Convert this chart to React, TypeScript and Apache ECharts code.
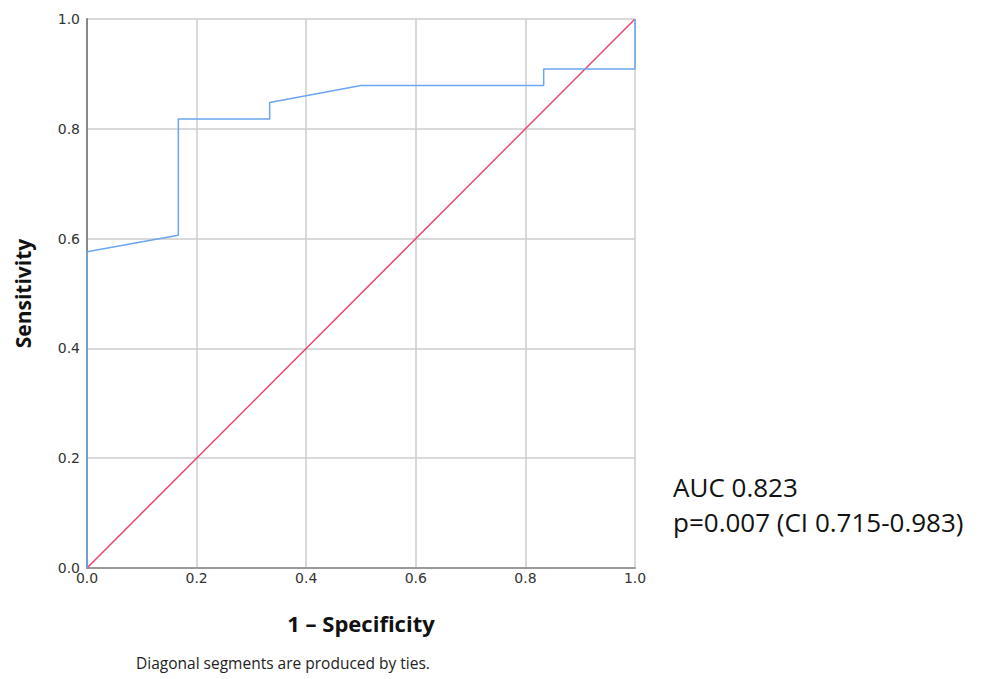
import React, { useEffect, useRef } from "react";
import * as echarts from "echarts";

const rocX = [0, 0, 1 / 6, 1 / 6, 2 / 6, 2 / 6, 3 / 6, 5 / 6, 5 / 6, 1, 1];
const rocY = [0, 0.576, 0.606, 0.818, 0.818, 0.848, 0.879, 0.879, 0.909, 0.909, 1];
const refX = [0, 1];
const refY = [0, 1];
const xTitle = "1 – Specificity";
const yTitle = "Sensitivity";
const footnote = "Diagonal segments are produced by ties.";
const aucLines = ["AUC 0.823", "p=0.007 (CI 0.715-0.983)"];

export default function App() {
  const ref = useRef<HTMLDivElement>(null);
  useEffect(() => {
    if (!ref.current) return;
    const chart = echarts.init(ref.current, null, { renderer: "svg" });
    const labelStyle = { color: "#333", fontSize: 14, fontFamily: "DejaVu Sans" };
    const titleStyle = { fontSize: 21, fontWeight: "bold", color: "#111", fontFamily: "Open Sans" };
    chart.setOption({
      animation: false,
      grid: { left: 87, top: 19, width: 548, height: 549, containLabel: false },
      xAxis: {
        type: "value",
        min: 0,
        max: 1,
        interval: 0.2,
        name: xTitle,
        nameLocation: "middle",
        nameGap: 44,
        nameTextStyle: { ...titleStyle, fontSize: 22 },
        axisLine: { show: true, lineStyle: { color: "#999", width: 2 } },
        axisTick: { show: false },
        axisLabel: { ...labelStyle, margin: 3, formatter: (v: number) => v.toFixed(1) },
        splitLine: { show: true, lineStyle: { color: "#cccccc", width: 1.5 } },
      },
      yAxis: {
        type: "value",
        min: 0,
        max: 1,
        interval: 0.2,
        name: yTitle,
        nameLocation: "middle",
        nameGap: 54,
        nameRotate: 90,
        nameTextStyle: titleStyle,
        axisLine: { show: true, lineStyle: { color: "#888", width: 2 } },
        axisTick: { show: false },
        axisLabel: { ...labelStyle, margin: 7, formatter: (v: number) => v.toFixed(1) },
        splitLine: { show: true, lineStyle: { color: "#cccccc", width: 1.5 } },
      },
      series: [
        {
          type: "line",
          data: refX.map((x, i) => [x, refY[i]]),
          showSymbol: false,
          lineStyle: { color: "#e8456c", width: 1.5 },
          z: 3,
        },
        {
          type: "line",
          data: rocX.map((x, i) => [x, rocY[i]]),
          showSymbol: false,
          lineStyle: { color: "#6aa6ef", width: 1.5 },
          z: 4,
        },
      ],
      graphic: [
        {
          type: "text",
          left: 136,
          top: 655,
          style: { text: footnote, fontSize: 15.5, fill: "#222", fontFamily: "Open Sans" },
        },
        {
          type: "text",
          left: 673,
          top: 474,
          style: { text: aucLines[0], fontSize: 26, fill: "#111", fontFamily: "Open Sans" },
        },
        {
          type: "text",
          left: 673,
          top: 509,
          style: { text: aucLines[1], fontSize: 26, fill: "#111", fontFamily: "Open Sans" },
        },
      ],
    });
    return () => chart.dispose();
  }, []);
  return (
    <div
      ref={ref}
      style={{ position: "fixed", left: 0, top: 0, width: 983, height: 679, background: "#fff" }}
    />
  );
}
